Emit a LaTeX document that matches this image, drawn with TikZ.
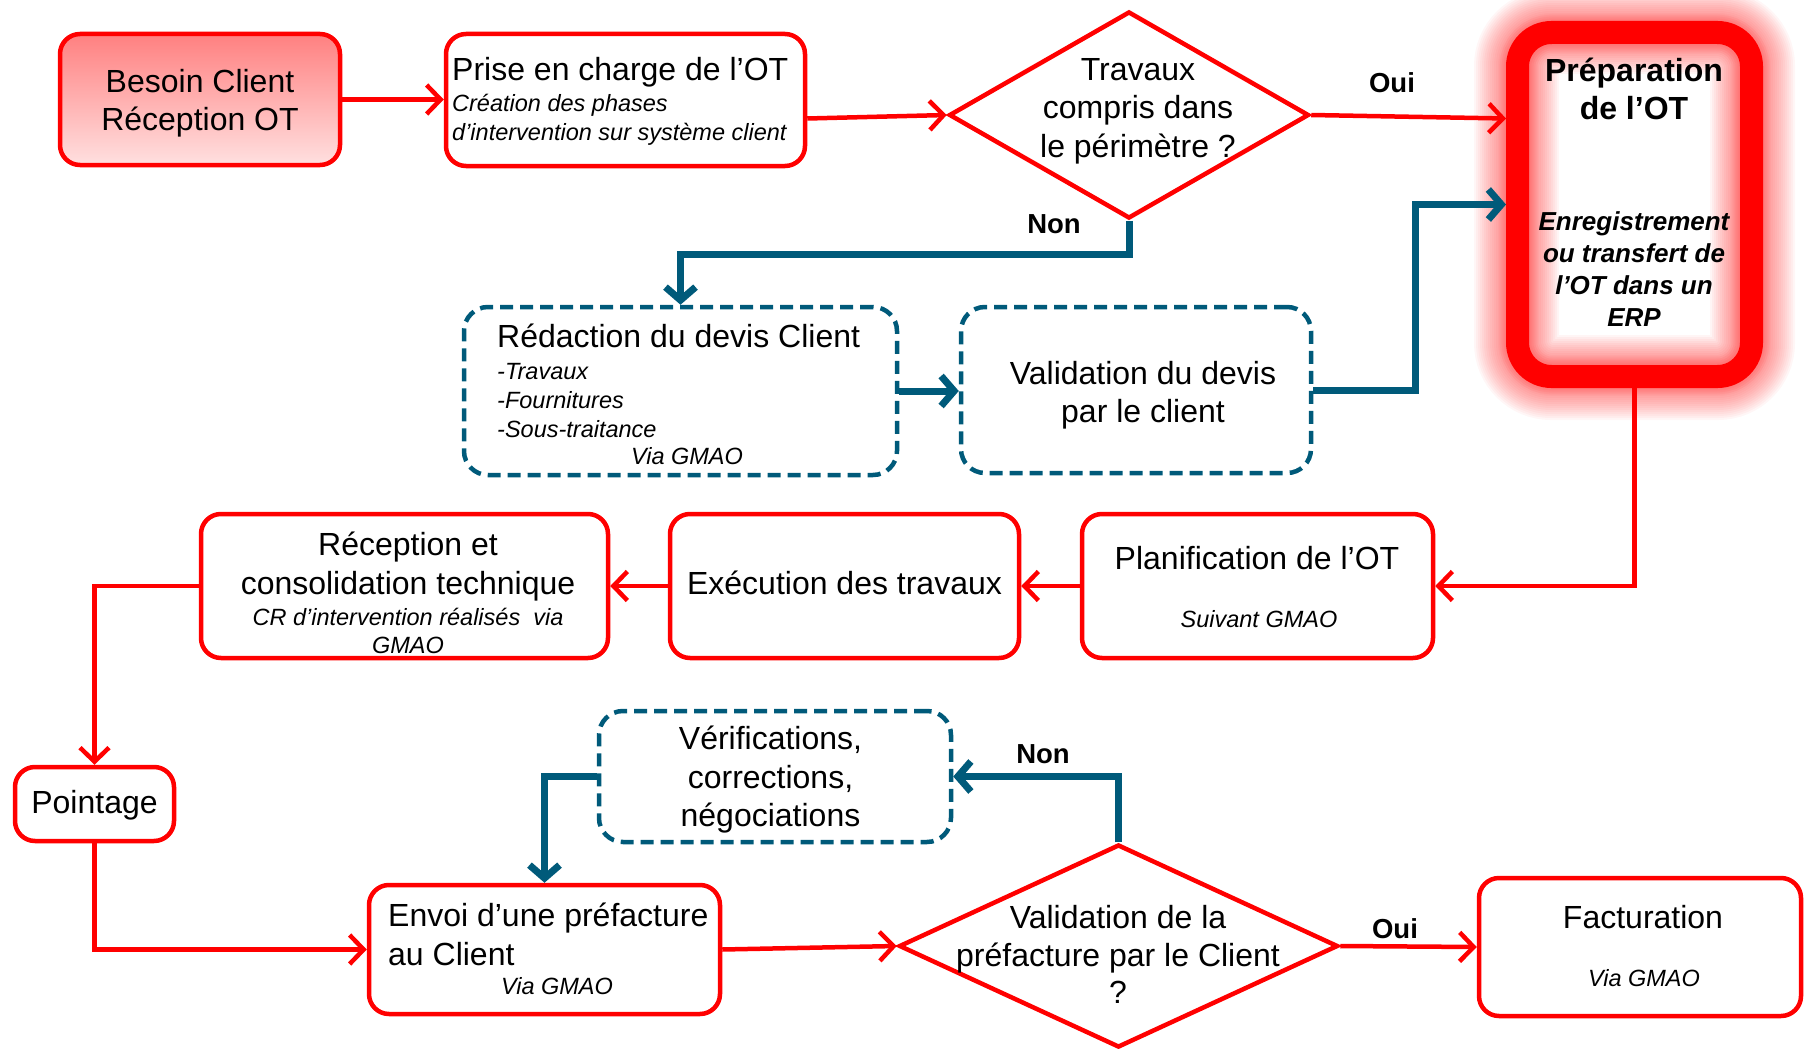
\documentclass[tikz,border=0pt]{standalone}
\usepackage{fontspec}
\setmainfont{Liberation Sans}
\usetikzlibrary{shapes.geometric,arrows.meta,calc}
\definecolor{rd}{RGB}{255,0,0}
\definecolor{bl}{RGB}{0,90,122}
\definecolor{btop}{RGB}{255,128,128}
\definecolor{bbot}{RGB}{255,224,224}
\newcommand\mainf{\fontsize{32}{38.5}\selectfont}
\newcommand\subf{\fontsize{23.5}{29}\selectfont\itshape}
\newcommand\lblf{\fontsize{27.5}{32}\selectfont\bfseries}
\newcommand\prepf{\fontsize{32}{38}\selectfont\bfseries}
\newcommand\prepsf{\fontsize{26}{32}\selectfont\bfseries\itshape}
\begin{document}
\begin{tikzpicture}[x=1pt,y=-1pt,
  redbox/.style={draw=rd, line width=4.5pt, rounded corners=20pt, inner sep=0pt, font=\mainf, align=center},
  bluebox/.style={draw=bl, line width=4.5pt, dash pattern=on 13pt off 7pt, rounded corners=24pt, inner sep=0pt, font=\mainf, align=center},
  redarrow/.style={draw=rd, line width=4.5pt, -{Straight Barb[length=14pt,width=29pt]}},
  bluearrow/.style={draw=bl, line width=7pt, -{Straight Barb[length=13pt,width=30pt]}},
  decision/.style={shape=diamond, draw=rd, line width=4.5pt, inner sep=0pt, fill=white},
  txt/.style={inner sep=0pt, font=\mainf, align=center},
  itxt/.style={inner sep=0pt, font=\subf, align=center},
  lbl/.style={inner sep=0pt, font=\lblf}]
\useasboundingbox (0,0) rectangle (1805,1049);

% Top row
\node[redbox, minimum width=280pt, minimum height=131pt, top color=btop, bottom color=bbot] (besoin) at (200,99.5) {};
\node[txt] (besoint) at (200,103) {Besoin Client\\Réception OT};
\node[redbox, minimum width=359pt, minimum height=132pt] (prise) at (625.5,100) {};
\node[txt, anchor=west] (priset) at (452,72.5) {Prise en charge de l’OT};
\node[itxt, anchor=west, align=left] (prises) at (452,120) {Création des phases\\d’intervention sur système client};
\node[decision, minimum width=360pt, minimum height=207pt] (d1) at (1129,115) {};
\node[txt] (d1t) at (1138,111) {Travaux\\compris dans\\le périmètre ?};

% Preparation with glow
\foreach \w in {4,8,...,64} \draw[rd, opacity=0.035, line width=\w pt, rounded corners=45pt] (1506,21) rectangle (1763,388);
\foreach \w in {4,8,...,60} \draw[rd, opacity=0.04, line width=\w pt, rounded corners=24pt] (1529,44) rectangle (1740,365);
\node[draw=rd, line width=23pt, rounded corners=34pt, minimum width=234pt, minimum height=344pt, outer sep=11.5pt, inner sep=0pt] (prep) at (1634.5,204.5) {};
\node[inner sep=0pt, font=\prepf, align=center] (prept) at (1634,89) {Préparation\\de l’OT};
\node[inner sep=0pt, font=\prepsf, align=center] (preps) at (1634,269) {Enregistrement\\ou transfert de\\l’OT dans un\\ERP};

\node[lbl] (oui1) at (1392,83) {Oui};
\node[lbl] (non1) at (1054,224) {Non};

% Devis row
\node[bluebox, minimum width=433pt, minimum height=168pt] (redac) at (680.5,391) {};
\node[txt, anchor=west] (redact) at (497,336) {Rédaction du devis Client};
\node[itxt, anchor=west, align=left] (redaci) at (497,400.5) {-Travaux\\-Fournitures\\-Sous-traitance};
\node[itxt] (redacv) at (687,456) {Via GMAO};
\node[bluebox, minimum width=350pt, minimum height=166pt] (valid) at (1136,390) {};
\node[txt] (validt) at (1143,395) {Validation du devis\\par le client};

% Execution row
\node[redbox, minimum width=351pt, minimum height=144pt] (plan) at (1257.5,586) {};
\node[txt] (plant) at (1257,558) {Planification de l’OT};
\node[itxt] (plans) at (1259,619) {Suivant GMAO};
\node[redbox, minimum width=349pt, minimum height=144pt] (exec) at (844.5,586) {};
\node[txt] (exect) at (844.5,582.5) {Exécution des travaux};
\node[redbox, minimum width=407pt, minimum height=144pt] (recep) at (404.5,586) {};
\node[txt] (recept) at (408,566.5) {Réception et\\consolidation technique};
\node[itxt, font=\fontsize{23.5}{27.5}\selectfont\itshape] (receps) at (408,631) {CR d’intervention réalisés~ via\\GMAO};

% Bottom rows
\node[redbox, minimum width=159pt, minimum height=74pt] (point) at (94.5,804) {};
\node[txt] (pointt) at (94.5,805) {Pointage};
\node[bluebox, minimum width=352pt, minimum height=131pt] (verif) at (775,776.5) {};
\node[txt] (veriftx) at (770.5,780) {Vérifications,\\corrections,\\négociations};
\node[redbox, minimum width=351pt, minimum height=129pt] (envoi) at (544.5,949.5) {};
\node[txt, anchor=west, align=left] (envoit) at (388,934.5) {Envoi d’une préfacture\\au Client};
\node[itxt] (envois) at (557,986.5) {Via GMAO};
\node[decision, minimum width=439pt, minimum height=203pt] (d2) at (1118.5,946) {};
\node[txt, font=\fontsize{32}{37.5}\selectfont] (d2t) at (1118,954.5) {Validation de la\\préfacture par le Client\\?};
\node[redbox, minimum width=322pt, minimum height=138pt] (fact) at (1640,947) {};
\node[txt] (factt) at (1643,917.5) {Facturation};
\node[itxt] (facts) at (1644,978.5) {Via GMAO};
\node[lbl] (non2) at (1043,754) {Non};
\node[lbl] (oui2) at (1395,929) {Oui};

% Connectors
\draw[redarrow] (besoin.east) -- (besoin.east -| prise.west);
\draw[redarrow] ([yshift=-18.5pt]prise.east) -- (d1.west);
\draw[redarrow] (d1.east) -- ([yshift=86pt]prep.west);
\draw[bluearrow] (d1.south) -- ++(0,34) -| (redac.north);
\draw[bluearrow] (redac.east) -- (redac.east -| valid.west);
\draw[bluearrow] (valid.east) -- ++(102,0) |- (prep.west);
\draw[redarrow] (prep.south) |- (plan.east);
\draw[redarrow] (plan.west) -- (exec.east);
\draw[redarrow] (exec.west) -- (recep.east);
\draw[redarrow] (recep.west) -| (point.north);
\draw[redarrow] (point.south) |- (envoi.west);
\draw[bluearrow] (verif.west) -| (envoi.north);
\draw[redarrow] (envoi.east) -- (d2.west);
\draw[bluearrow] (d2.north) |- (verif.east);
\draw[redarrow] (d2.east) -- (fact.west);
\end{tikzpicture}
\end{document}
